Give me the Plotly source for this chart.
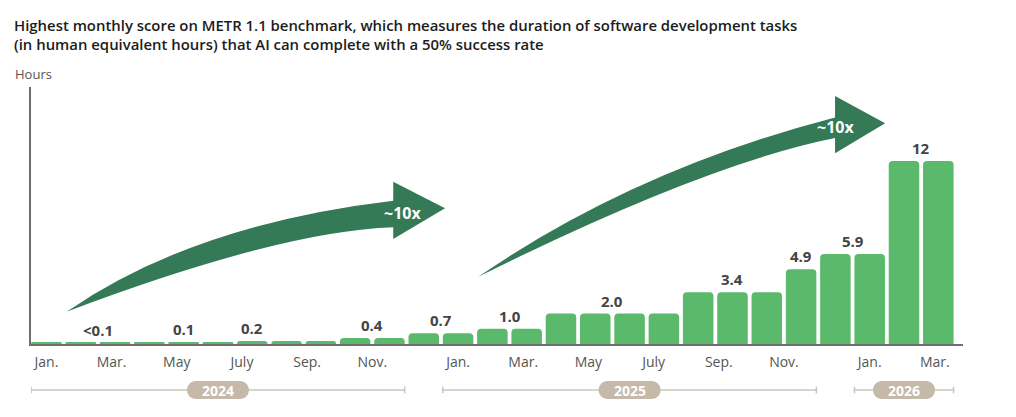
import plotly.graph_objects as go

# Monthly data, Jan 2024 .. Mar 2026 (bar index 0 .. 26)
months = ["Jan.", "Feb.", "Mar.", "Apr.", "May", "June", "July", "Aug.", "Sep.", "Oct.", "Nov.", "Dec."]
years = ["2024"] * 12 + ["2025"] * 12 + ["2026"] * 3
month_names = months * 2 + months[:3]
hours = [0.08, 0.08, 0.08, 0.08, 0.1, 0.1, 0.2, 0.2, 0.2, 0.4, 0.4, 0.7,
         0.7, 1.0, 1.0, 2.0, 2.0, 2.0, 2.0, 3.4, 3.4, 3.4, 4.9, 5.9,
         5.9, 12, 12]

# value labels: (text, first bar, last bar)
value_labels = [("<0.1", 0, 3), ("0.1", 4, 4), ("0.2", 6, 6), ("0.4", 9, 10),
                ("0.7", 11, 12), ("1.0", 13, 14), ("2.0", 15, 18), ("3.4", 19, 21),
                ("4.9", 22, 22), ("5.9", 23, 24), ("12", 25, 26)]

# month tick labels shown (every other month)
tick_months = ["Jan.", "Mar.", "May", "July", "Sep.", "Nov."]

# year brackets: (label, first bar, last bar)
year_spans = [("2024", 0, 10), ("2025", 12, 22), ("2026", 24, 26)]

TITLE = ("Highest monthly score on METR 1.1 benchmark, which measures the duration of software development tasks"
         "<br>(in human equivalent hours) that AI can complete with a 50% success rate")

BAR_GREEN = "#5bb96b"
ARROW_GREEN = "#347a56"
PILL = "#c5b9a9"
BRACKET = "#cdc4b9"
AXIS = "#6e6e6e"
FONT = "Open Sans"

XR = [-0.45, 26.72]
YR = [0, 16.85]
BAR_W = 0.89
TICK_SQUEEZE = 0.95  # labels sit slightly tighter than the bars within each year
BRACKET_Y = -0.179   # paper units, below the month labels

fig = go.Figure()

fig.add_trace(go.Bar(
    x=list(range(len(hours))), y=hours,
    width=BAR_W,
    marker=dict(color=BAR_GREEN, line=dict(width=0)),
    customdata=[f"{m} {y}" for m, y in zip(month_names, years)],
    hovertemplate="%{customdata}: %{y} h<extra></extra>",
))

# tick positions: each year's January bar, then squeezed spacing
tickvals, ticktext = [], []
for i, (m, y) in enumerate(zip(month_names, years)):
    if m in tick_months:
        jan = years.index(y)
        tickvals.append(jan + TICK_SQUEEZE * (i - jan))
        ticktext.append(m)

annotations = []
for text, a, b in value_labels:
    annotations.append(dict(
        x=(a + b) / 2, y=max(hours[a:b + 1]), xref="x", yref="y",
        text=text, showarrow=False, yanchor="middle", yshift=13,
        font=dict(family=FONT, size=15, color="#444444", weight=700),
    ))

annotations.append(dict(
    x=-0.0193, y=1.0506, xref="paper", yref="paper", xanchor="left", yanchor="middle",
    text="Hours", showarrow=False, font=dict(family=FONT, size=13, color="#555555"),
))
annotations.append(dict(
    x=-0.0204, y=1.204, xref="paper", yref="paper", xanchor="left", yanchor="middle",
    text=TITLE, showarrow=False, align="left",
    font=dict(family=FONT, size=14.9, color="#1c1c1c", weight=600),
))

shapes = []

# curved "~10x" arrows, in data units (bar index, hours)
arrows = [
    dict(tail=(0.59, 2.12), up_c=(4.28, 7.85), up_e=(10.11, 9.40), head_top=(10.11, 10.64),
         tip=(11.62, 8.90), head_bot=(10.11, 6.89), lo_e=(10.11, 7.65), lo_c=(6.81, 7.40),
         label=(10.39, 8.62)),
    dict(tail=(12.59, 4.41), up_c=(17.16, 11.45), up_e=(22.99, 14.85), head_top=(22.99, 16.26),
         tip=(24.45, 14.47), head_bot=(22.99, 12.50), lo_e=(22.99, 13.50), lo_c=(19.20, 11.80),
         label=(23.0, 14.22)),
]


def pt(p):
    return f"{p[0]},{p[1]}"


for ar in arrows:
    path = (f"M {pt(ar['tail'])} Q {pt(ar['up_c'])} {pt(ar['up_e'])} "
            f"L {pt(ar['head_top'])} L {pt(ar['tip'])} L {pt(ar['head_bot'])} "
            f"L {pt(ar['lo_e'])} Q {pt(ar['lo_c'])} {pt(ar['tail'])} Z")
    shapes.append(dict(type="path", xref="x", yref="y", path=path,
                       fillcolor=ARROW_GREEN, line=dict(width=0), layer="above"))
    annotations.append(dict(
        x=ar["label"][0], y=ar["label"][1], xref="x", yref="y", text="~10x",
        showarrow=False, font=dict(family=FONT, size=16, color="white", weight=700),
    ))

# year brackets with pill labels
pill = "M -22,-9 L 22,-9 C 27,-9 31,-5 31,0 C 31,5 27,9 22,9 L -22,9 C -27,9 -31,5 -31,0 C -31,-5 -27,-9 -22,-9 Z"
for label, a, b in year_spans:
    x0, x1 = a - BAR_W / 2, b + BAR_W / 2
    shapes.append(dict(type="line", xref="x", yref="paper", x0=x0, x1=x1, y0=BRACKET_Y, y1=BRACKET_Y,
                       line=dict(color=BRACKET, width=1.5)))
    for xe in (x0, x1):
        shapes.append(dict(type="line", xref="x", yref="paper", x0=xe, x1=xe,
                           y0=BRACKET_Y - 0.013, y1=BRACKET_Y + 0.013, line=dict(color=BRACKET, width=1.5)))
    shapes.append(dict(type="path", xref="x", yref="paper", xsizemode="pixel", ysizemode="pixel",
                       xanchor=(x0 + x1) / 2, yanchor=BRACKET_Y, path=pill,
                       fillcolor=PILL, line=dict(width=0)))
    annotations.append(dict(
        x=(x0 + x1) / 2, y=BRACKET_Y, xref="x", yref="paper", text=label, showarrow=False,
        yanchor="middle", font=dict(family=FONT, size=14, color="white", weight=700),
    ))

# the page body adds an 8px margin, so the figure is 8px smaller than the window
fig.update_layout(
    width=1008, height=409,
    margin=dict(l=23, r=53, t=79, b=73),
    paper_bgcolor="white", plot_bgcolor="white",
    showlegend=False,
    barcornerradius=4,
    font=dict(family=FONT, color="#555555"),
    xaxis=dict(range=XR, tickvals=tickvals, ticktext=ticktext, showgrid=False, zeroline=False,
               showline=True, linecolor=AXIS, linewidth=1.5, ticks="",
               tickfont=dict(family=FONT, size=14, color="#555555"), ticklabelstandoff=4),
    yaxis=dict(range=YR, showgrid=False, zeroline=False, showline=True, linecolor=AXIS,
               linewidth=1.5, showticklabels=False, ticks=""),
    annotations=annotations,
    shapes=shapes,
)

fig.write_html("out.html")
